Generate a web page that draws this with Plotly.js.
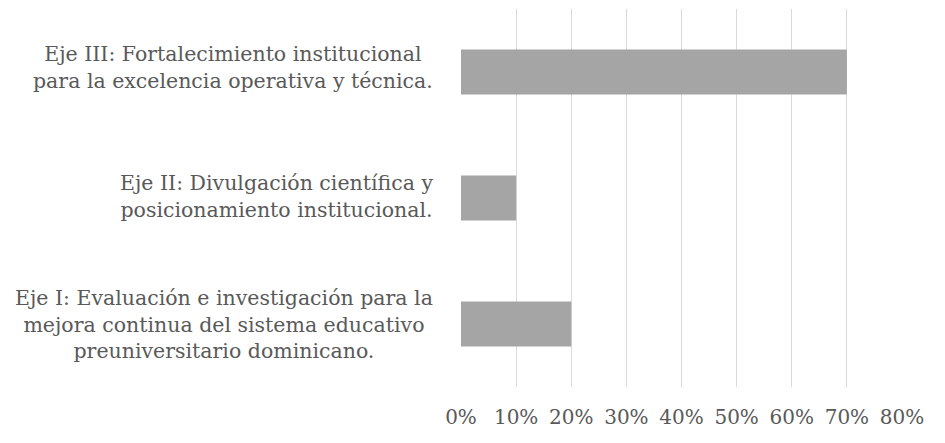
<!DOCTYPE html>
<html>
<head>
<meta charset="utf-8">
<script src="https://cdn.plot.ly/plotly-3.0.1.min.js"></script>
<style>html,body{margin:0;padding:0;background:#fff;}#chart{width:945px;height:443px;}</style>
</head>
<body>
<div id="chart"></div>
<script>
var categories = [
  "Eje I: Evaluación e investigación para la<br>mejora continua del sistema educativo<br>preuniversitario dominicano.",
  "Eje II: Divulgación científica y<br>posicionamiento institucional.",
  "Eje III: Fortalecimiento institucional<br>para la excelencia operativa y técnica."
];
var values = [0.20, 0.10, 0.70];
var tickValues = [0, 0.1, 0.2, 0.3, 0.4, 0.5, 0.6, 0.7, 0.8];
var tickLabels = ["0%", "10%", "20%", "30%", "40%", "50%", "60%", "70%", "80%"];

var FONT = "DejaVu Serif";
var TXT = "#595959";

var trace = {
  type: "bar",
  orientation: "h",
  x: values,
  y: categories,
  marker: {color: "#a5a5a5", line: {width: 0}},
  hoverinfo: "none"
};

var labelYShift = [0, 2, 5];
var annotations = categories.map(function (c, i) {
  return {
    xref: "paper", yref: "y", x: 0, y: c,
    xanchor: "right", yanchor: "middle", xshift: -26, yshift: labelYShift[i],
    align: "center", showarrow: false, text: c,
    font: {family: FONT, size: 20.5, color: TXT}
  };
});

var layout = {
  width: 945, height: 443,
  margin: {l: 461, r: 43, t: 9, b: 56},
  paper_bgcolor: "#ffffff", plot_bgcolor: "#ffffff",
  showlegend: false,
  bargap: 0.643,
  font: {family: FONT, color: TXT},
  xaxis: {
    range: [0, 0.8], tickvals: tickValues, ticktext: tickLabels,
    showgrid: true, gridcolor: "#d9d9d9", gridwidth: 1,
    zeroline: false, showline: false,
    ticks: "outside", ticklen: 12, tickcolor: "rgba(0,0,0,0)",
    tickfont: {family: FONT, size: 20, color: TXT},
    fixedrange: true
  },
  yaxis: {
    showticklabels: false, showgrid: false, zeroline: false, showline: false,
    ticks: "", fixedrange: true
  },
  annotations: annotations
};

Plotly.newPlot("chart", [trace], layout, {displayModeBar: false, staticPlot: true});
</script>
</body>
</html>
